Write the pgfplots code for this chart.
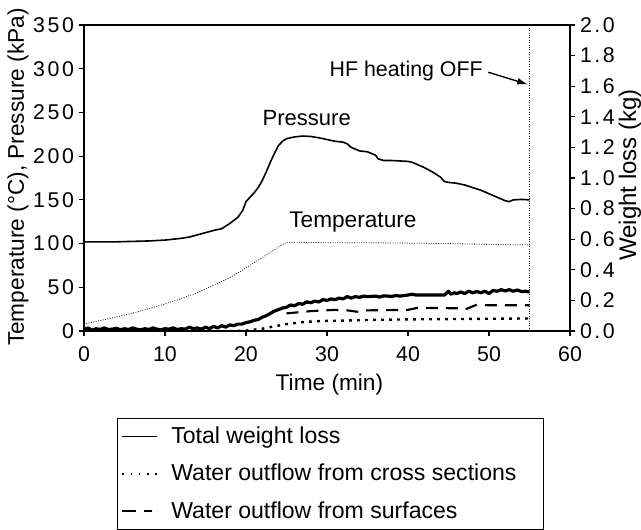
\documentclass[border=0pt]{standalone}
\usepackage{fontspec}
\setmainfont{Liberation Sans}
\newfontfamily\tickfont[LetterSpace=12]{Liberation Sans}
\usepackage{pgfplots}
\pgfplotsset{compat=1.18}
\usetikzlibrary{arrows.meta}
\begin{document}
\begin{tikzpicture}
\pgfplotsset{
  every axis/.append style={
    scale only axis,
    width=364.5pt,
    height=229.5pt,
    xmin=0, xmax=60,
    tick align=outside,
    major tick length=4pt,
    axis line style={line width=0.8pt},
    tick style={line width=0.8pt, black},
    /pgf/number format/assume math mode=true,
    tick label style={font=\fontsize{16}{19}\selectfont},
    label style={font=\fontsize{17}{20}\selectfont},
  },
}
\begin{axis}[
  ymin=0, ymax=350,
  xtick={0,10,20,30,40,50,60},
  ytick={0,50,100,150,200,250,300,350},
  xtick pos=bottom, ytick pos=left,
  yticklabel style={font=\fontsize{16}{19}\tickfont},
  xticklabel style={yshift=-4.5pt},
  xlabel={Time (min)},
  ylabel={Temperature (°C), Pressure (kPa)},
  xlabel style={at={(axis description cs:0.505,-0.1765)}, anchor=center},
  ylabel style={at={(axis description cs:-0.136,0.503)}, anchor=center},
]
  % pressure
  \addplot[black, line width=1.2pt] coordinates {
    (0,102) (2,102) (4,102) (6,102.5) (8,103) (10,104) (12,106) (13,107.5)
    (14,110) (15,112.5) (16,115) (17,117) (18,123) (19,130) (19.6,138)
    (20,148) (20.5,153) (21,158) (21.5,164) (22,172) (22.5,182) (23,193)
    (23.5,203) (24,212) (24.5,217) (25,220) (26,222) (27,223) (28,222.5)
    (29,221) (30,219) (31,217) (32,216) (32.5,214) (33,210) (33.5,208)
    (34,206) (35,205) (35.5,203) (36,201) (36.3,197) (37,195) (38,195)
    (39,194.5) (40,194) (40.5,193) (41,191) (42,187) (43,182) (44,176)
    (44.5,171) (45,170) (46,169) (47,167) (48,164) (49,161) (50,157)
    (51,153) (52,149) (52.5,148) (53,150) (54,150.5) (55,150)
  };
  % temperature
  \addplot[black, line width=0.6pt, dash pattern=on 0.6pt off 1.2pt] coordinates {
    (0,8) (2,12) (4,16) (6,20.5) (8,25.5) (10,31) (12,37) (14,44) (16,52)
    (18,61) (20,72) (21,78) (22,84) (23,90) (24,96) (25,101.5) (26,101.5)
    (30,101) (35,101) (40,100.5) (45,100) (50,99) (55,98.5)
  };
  \draw[black, line width=0.6pt, dash pattern=on 0.6pt off 1.2pt]
    (axis cs:55,0) -- (axis cs:55,350);
  \node[font=\fontsize{16.5}{19}\selectfont] at (axis cs:27.5,244) {Pressure};
  \node[font=\fontsize{17}{20}\selectfont] at (axis cs:33.2,125) {Temperature};
  \node[font=\fontsize{16}{19}\selectfont, anchor=east] at (axis cs:49.8,297) {HF heating OFF};
  \draw[line width=1pt, -{Latex[length=8pt,width=5pt]}]
    (axis cs:49.9,296) -- (axis cs:54.8,282);
\end{axis}
\begin{axis}[
  ymin=0, ymax=2,
  axis x line=none,
  axis y line*=right,
  ytick={0,0.2,0.4,0.6,0.8,1.0,1.2,1.4,1.6,1.8,2.0},
  yticklabel style={font=\fontsize{16}{19}\tickfont,
    /pgf/number format/.cd, fixed, fixed zerofill, precision=1},
  ylabel={Weight loss (kg)},
  ylabel style={font=\fontsize{18}{21}\selectfont,
    at={(axis description cs:1.1235,0.51)}, anchor=center},
  legend style={
    at={(axis description cs:0.0679,-0.2833)}, anchor=north west,
    draw=black, line width=0.8pt,
    font=\fontsize{17.3}{20}\selectfont,
    row sep=10pt, inner xsep=3pt, inner ysep=4.5pt,
  },
  legend cell align=left,
  legend image code/.code={\draw[#1] (0pt,0pt) -- (26pt,0pt); \path (34pt,0pt);},
]
  % total weight loss
  \addplot[black, line width=2.4pt, line join=round, forget plot] coordinates {
    (0,0.01) (0.5,0.02) (1,0.005) (1.5,0.015) (2,0.01) (2.5,0.02) (3,0.01)
    (3.5,0.012) (4,0.018) (4.5,0.008) (5,0.015) (5.5,0.01) (6,0.02)
    (6.5,0.012) (7,0.008) (7.5,0.015) (8,0.01) (8.5,0.02) (9,0.012)
    (9.5,0.008) (10,0.015) (10.5,0.012) (11,0.02) (11.5,0.01) (12,0.015)
    (12.5,0.012) (13,0.025) (13.5,0.015) (14,0.02) (14.5,0.012) (15,0.025)
    (15.5,0.015) (16,0.03) (16.5,0.02) (17,0.035) (17.5,0.025) (18,0.04)
    (18.5,0.035) (19,0.045) (19.5,0.045) (20,0.055) (20.5,0.06) (21,0.07)
    (21.5,0.075) (22,0.09) (22.5,0.1) (23,0.115) (23.5,0.13) (24,0.14)
    (24.5,0.15) (25,0.155) (25.5,0.17) (26,0.165) (26.5,0.18) (27,0.175)
    (27.5,0.19) (28,0.185) (28.5,0.195) (29,0.19) (29.5,0.205) (30,0.2)
    (30.5,0.21) (31,0.205) (31.5,0.215) (32,0.21) (32.5,0.225) (33,0.215)
    (33.5,0.225) (34,0.22) (34.5,0.228) (35,0.225) (36,0.228) (36.5,0.222)
    (37,0.23) (38,0.226) (38.5,0.232) (39,0.228) (39.5,0.232) (40,0.235)
    (40.5,0.24) (41,0.235) (42,0.235) (43,0.235) (44,0.235) (44.5,0.235)
    (45,0.26) (45.3,0.24) (45.7,0.25) (46,0.245) (46.5,0.255) (47,0.245)
    (47.5,0.26) (48,0.25) (48.5,0.258) (49,0.25) (49.5,0.26) (50,0.245)
    (50.5,0.265) (51,0.26) (51.5,0.27) (52,0.262) (52.5,0.27) (53,0.26)
    (53.5,0.268) (54,0.258) (54.5,0.26) (55,0.255)
  };
  % water outflow from cross sections
  \addplot[black, line width=1.8pt, dash pattern=on 2pt off 4pt, forget plot] coordinates {
    (18,0) (20,0.003) (22,0.015) (23,0.025) (25,0.045) (27,0.058) (29,0.065)
    (32,0.068) (35,0.072) (40,0.076) (45,0.078) (50,0.08) (55,0.082)
  };
  % water outflow from surfaces
  \addplot[black, line width=1.6pt, dash pattern=on 9pt off 6pt, forget plot] coordinates {
    (25,0.115) (28,0.13) (31,0.138) (32.5,0.135) (33.7,0.126) (35,0.135)
    (40,0.138) (41.2,0.152) (46.5,0.148) (47,0.14) (48.5,0.172) (50,0.168)
    (55,0.168)
  };
  \addlegendimage{black, line width=1.1pt}
  \addlegendentry{\makebox[274pt][l]{Total weight loss}}
  \addlegendimage{black, line width=1.3pt, dash pattern=on 1.3pt off 4.8pt}
  \addlegendentry{\makebox[274pt][l]{Water outflow from cross sections}}
  \addlegendimage{black, line width=1.2pt, dash pattern=on 10pt off 6pt on 6pt off 4pt}
  \addlegendentry{\makebox[274pt][l]{Water outflow from surfaces}}
\end{axis}
\pgfresetboundingbox
\path (-63pt,-148.5pt) rectangle (417.75pt,248.25pt);
\end{tikzpicture}
\end{document}
